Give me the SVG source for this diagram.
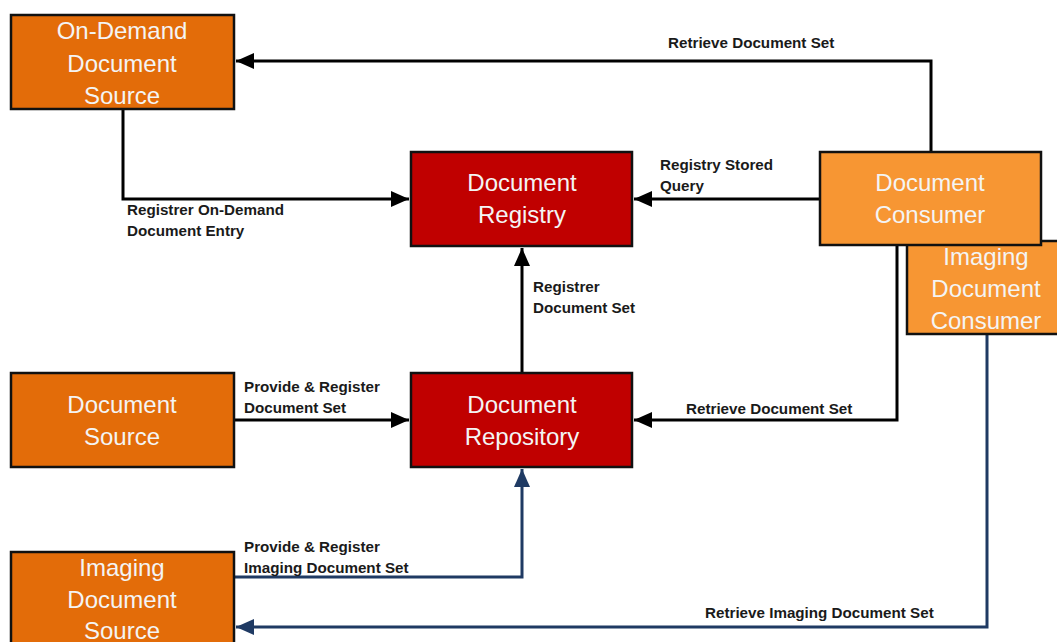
<svg xmlns="http://www.w3.org/2000/svg" width="1057" height="642" viewBox="0 0 1057 642">
  <style>
    .box { stroke: #111; stroke-width: 2.5; }
    .dark { fill: #E36C09; }
    .light { fill: #F79633; }
    .red { fill: #C00000; }
    .nt { font-family: "Liberation Sans", Arial, sans-serif; font-size: 24px; fill: #F4F4F4; text-anchor: middle; }
    .lbl { font-family: "Liberation Sans", Arial, sans-serif; font-size: 15.2px; font-weight: bold; fill: #1a1a1a; }
    .k { fill: none; stroke: #000; stroke-width: 3; marker-end: url(#ak); }
    .b { fill: none; stroke: #1F3A63; stroke-width: 3; marker-end: url(#ab); }
  </style>
  <defs>
    <marker id="ak" markerUnits="userSpaceOnUse" markerWidth="20" markerHeight="18" refX="18" refY="8" orient="auto">
      <path d="M0,0 L18,8 L0,16 z" fill="#000"/>
    </marker>
    <marker id="ab" markerUnits="userSpaceOnUse" markerWidth="20" markerHeight="18" refX="18" refY="8" orient="auto">
      <path d="M0,0 L18,8 L0,16 z" fill="#1F3A63"/>
    </marker>
  </defs>

  <rect width="1057" height="642" fill="#fff"/>

  <g id="connectors">
    <path class="k" d="M931,152 V61 H236"/>
    <path class="k" d="M123,109 V199 H409"/>
    <path class="k" d="M820,199 H634"/>
    <path class="k" d="M522,373 V248"/>
    <path class="k" d="M234,420 H409"/>
    <path class="k" d="M897,245 V420 H634"/>
    <path class="b" d="M234,577 H522 V469"/>
    <path class="b" d="M987,334 V627 H236"/>
  </g>

  <g id="labels">
    <text class="lbl" x="668" y="48">Retrieve Document Set</text>
    <text class="lbl" x="660" y="170">Registry Stored</text>
    <text class="lbl" x="660" y="191">Query</text>
    <text class="lbl" x="127" y="215">Registrer On-Demand</text>
    <text class="lbl" x="127" y="236">Document Entry</text>
    <text class="lbl" x="533" y="292">Registrer</text>
    <text class="lbl" x="533" y="313">Document Set</text>
    <text class="lbl" x="244" y="392">Provide &amp; Register</text>
    <text class="lbl" x="244" y="413">Document Set</text>
    <text class="lbl" x="686" y="414">Retrieve Document Set</text>
    <text class="lbl" x="244" y="552">Provide &amp; Register</text>
    <text class="lbl" x="244" y="573">Imaging Document Set</text>
    <text class="lbl" x="705" y="618">Retrieve Imaging Document Set</text>
  </g>

  <g id="on-demand-source">
    <rect class="box dark" x="11" y="15" width="223" height="94"/>
    <text class="nt" x="122" y="39">On-Demand</text>
    <text class="nt" x="122" y="72">Document</text>
    <text class="nt" x="122" y="104">Source</text>
  </g>

  <g id="document-registry">
    <rect class="box red" x="411" y="152" width="221" height="94"/>
    <text class="nt" x="522" y="191">Document</text>
    <text class="nt" x="522" y="223">Registry</text>
  </g>

  <g id="document-repository">
    <rect class="box red" x="411" y="373" width="221" height="94"/>
    <text class="nt" x="522" y="413">Document</text>
    <text class="nt" x="522" y="445">Repository</text>
  </g>

  <g id="imaging-document-consumer">
    <rect class="box light" x="907" y="241" width="160" height="93"/>
    <text class="nt" x="986" y="265">Imaging</text>
    <text class="nt" x="986" y="297">Document</text>
    <text class="nt" x="986" y="329">Consumer</text>
  </g>

  <g id="document-consumer">
    <rect class="box light" x="820" y="152" width="221" height="93"/>
    <text class="nt" x="930" y="191">Document</text>
    <text class="nt" x="930" y="223">Consumer</text>
  </g>

  <g id="document-source">
    <rect class="box dark" x="11" y="373" width="223" height="94"/>
    <text class="nt" x="122" y="413">Document</text>
    <text class="nt" x="122" y="445">Source</text>
  </g>

  <g id="imaging-document-source">
    <rect class="box dark" x="11" y="552" width="223" height="100"/>
    <text class="nt" x="122" y="576">Imaging</text>
    <text class="nt" x="122" y="608">Document</text>
    <text class="nt" x="122" y="639">Source</text>
  </g>
</svg>
